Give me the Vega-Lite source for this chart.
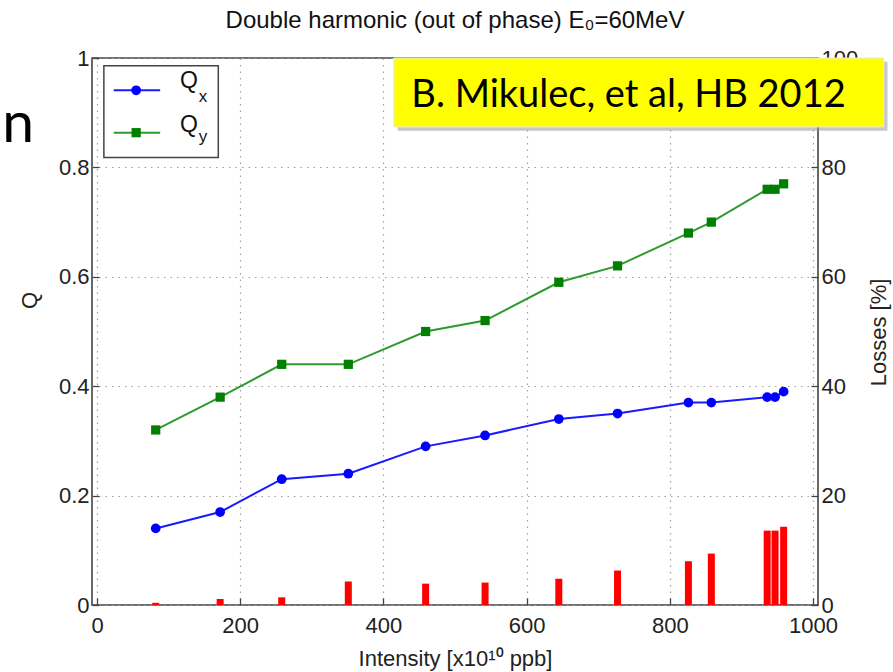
{
  "$schema": "https://vega.github.io/schema/vega-lite/v6.json",
  "width": 726,
  "height": 547,
  "autosize": {"type": "none"},
  "padding": {"left": 92, "top": 58, "right": 75, "bottom": 67},
  "background": "white",
  "config": {
    "view": {"stroke": "#444", "strokeWidth": 1.6},
    "font": "Liberation Sans",
    "axis": {
      "labelFont": "Liberation Sans",
      "labelFontSize": 22,
      "labelColor": "#222",
      "titleFont": "Liberation Sans",
      "titleFontSize": 22,
      "titleFontWeight": "normal",
      "titleColor": "#222",
      "domain": false,
      "tickColor": "#444",
      "tickWidth": 1.3,
      "tickSize": -7,
      "gridColor": "#a0a0a0",
      "gridDash": [1.5, 5],
      "gridWidth": 1.2
    }
  },
  "encoding": {
    "x": {
      "field": "intensity",
      "type": "quantitative",
      "scale": {"domain": [0, 1000], "nice": false, "zero": false},
      "axis": {
        "title": "Intensity [x10¹⁰ ppb]",
        "values": [0, 200, 400, 600, 800, 1000],
        "format": "d",
        "grid": true,
        "labelPadding": 17,
        "titleY": 60,
        "titleBaseline": "alphabetic"
      }
    }
  },
  "layer": [
    {
      "data": {
        "values": [
          {"intensity": 82, "losses": 0.4},
          {"intensity": 172, "losses": 1.1},
          {"intensity": 258, "losses": 1.4},
          {"intensity": 351, "losses": 4.3},
          {"intensity": 459, "losses": 3.9},
          {"intensity": 542, "losses": 4.1},
          {"intensity": 645, "losses": 4.8},
          {"intensity": 727, "losses": 6.3},
          {"intensity": 826, "losses": 8.0},
          {"intensity": 858, "losses": 9.4},
          {"intensity": 936, "losses": 13.6},
          {"intensity": 947, "losses": 13.6},
          {"intensity": 959, "losses": 14.3}
        ]
      },
      "mark": {"type": "bar", "color": "#ff0000", "size": 7},
      "encoding": {
        "y": {
          "field": "losses",
          "type": "quantitative",
          "scale": {"domain": [0, 100], "nice": false},
          "axis": {
            "orient": "right",
            "title": "Losses [%]",
            "values": [0, 20, 40, 60, 80, 100],
            "format": "d",
            "grid": false,
            "labelPadding": 10,
            "titleAngle": 270,
            "titleX": 60,
            "titleY": 274,
            "titleAlign": "center",
            "titleBaseline": "middle"
          }
        }
      }
    },
    {
      "encoding": {
        "y": {
          "field": "q",
          "type": "quantitative",
          "scale": {"domain": [0, 1], "nice": false},
          "axis": {
            "title": "Q",
            "values": [0, 0.2, 0.4, 0.6, 0.8, 1],
            "format": "~g",
            "grid": true,
            "labelPadding": 10,
            "titleAngle": 270,
            "titleX": -63,
            "titleY": 242,
            "titleAlign": "center",
            "titleBaseline": "middle"
          }
        }
      },
      "layer": [
        {
          "data": {
            "values": [
              {"intensity": 82, "q": 0.14, "series": "Qx"},
              {"intensity": 172, "q": 0.17, "series": "Qx"},
              {"intensity": 258, "q": 0.23, "series": "Qx"},
              {"intensity": 351, "q": 0.24, "series": "Qx"},
              {"intensity": 459, "q": 0.29, "series": "Qx"},
              {"intensity": 542, "q": 0.31, "series": "Qx"},
              {"intensity": 645, "q": 0.34, "series": "Qx"},
              {"intensity": 727, "q": 0.35, "series": "Qx"},
              {"intensity": 826, "q": 0.37, "series": "Qx"},
              {"intensity": 858, "q": 0.37, "series": "Qx"},
              {"intensity": 936, "q": 0.38, "series": "Qx"},
              {"intensity": 947, "q": 0.38, "series": "Qx"},
              {"intensity": 959, "q": 0.39, "series": "Qx"}
            ]
          },
          "layer": [
            {"mark": {"type": "line", "color": "#1a1aff", "strokeWidth": 2}},
            {"mark": {"type": "point", "shape": "circle", "filled": true, "color": "#0000ff", "size": 95, "opacity": 1}}
          ]
        },
        {
          "data": {
            "values": [
              {"intensity": 82, "q": 0.32, "series": "Qy"},
              {"intensity": 172, "q": 0.38, "series": "Qy"},
              {"intensity": 258, "q": 0.44, "series": "Qy"},
              {"intensity": 351, "q": 0.44, "series": "Qy"},
              {"intensity": 459, "q": 0.50, "series": "Qy"},
              {"intensity": 542, "q": 0.52, "series": "Qy"},
              {"intensity": 645, "q": 0.59, "series": "Qy"},
              {"intensity": 727, "q": 0.62, "series": "Qy"},
              {"intensity": 826, "q": 0.68, "series": "Qy"},
              {"intensity": 858, "q": 0.70, "series": "Qy"},
              {"intensity": 936, "q": 0.76, "series": "Qy"},
              {"intensity": 947, "q": 0.76, "series": "Qy"},
              {"intensity": 959, "q": 0.77, "series": "Qy"}
            ]
          },
          "layer": [
            {"mark": {"type": "line", "color": "#2e9a2e", "strokeWidth": 2}},
            {"mark": {"type": "point", "shape": "square", "filled": true, "color": "#007f00", "size": 85, "opacity": 1}}
          ]
        },
        {
          "data": {"values": [{"intensity": 9.6, "intensity2": 169.4, "q": 0.986, "q2": 0.818}]},
          "mark": {"type": "rect", "fill": "white", "stroke": "#444", "strokeWidth": 1.5},
          "encoding": {
            "x2": {"field": "intensity2"},
            "y2": {"field": "q2"}
          }
        },
        {
          "data": {
            "values": [
              {"intensity": 23.4, "intensity2": 88.2, "q": 0.941, "series": "Qx"},
              {"intensity": 23.4, "intensity2": 88.2, "q": 0.8635, "series": "Qy"}
            ]
          },
          "mark": {"type": "rule", "strokeWidth": 2},
          "encoding": {
            "x2": {"field": "intensity2"},
            "color": {"field": "series", "type": "nominal", "scale": {"domain": ["Qx", "Qy"], "range": ["#1a1aff", "#2e9a2e"]}, "legend": null}
          }
        },
        {
          "data": {"values": [{"intensity": 54.7, "q": 0.941}]},
          "mark": {"type": "point", "shape": "circle", "filled": true, "color": "#0000ff", "size": 95, "opacity": 1}
        },
        {
          "data": {"values": [{"intensity": 54.7, "q": 0.8635}]},
          "mark": {"type": "point", "shape": "square", "filled": true, "color": "#007f00", "size": 85, "opacity": 1}
        },
        {
          "data": {
            "values": [
              {"intensity": 116, "q": 0.945, "label": "Q"},
              {"intensity": 116, "q": 0.865, "label": "Q"}
            ]
          },
          "mark": {"type": "text", "align": "left", "baseline": "alphabetic", "fontSize": 23, "font": "Liberation Sans", "color": "#111"},
          "encoding": {"text": {"field": "label"}}
        },
        {
          "data": {
            "values": [
              {"intensity": 142, "q": 0.9196, "label": "x"},
              {"intensity": 142, "q": 0.847, "label": "y"}
            ]
          },
          "mark": {"type": "text", "align": "left", "baseline": "alphabetic", "fontSize": 17, "font": "Liberation Sans", "color": "#111"},
          "encoding": {"text": {"field": "label"}}
        },
        {
          "data": {"values": [{"intensity": 500, "q": 1.054, "label": "Double harmonic (out of phase) E₀=60MeV"}]},
          "mark": {"type": "text", "align": "center", "baseline": "alphabetic", "fontSize": 24, "font": "Liberation Sans", "color": "#111"},
          "encoding": {"text": {"field": "label"}}
        },
        {
          "data": {"values": [{"intensity": 420, "intensity2": 1104, "q": 0.993, "q2": 0.867}]},
          "mark": {"type": "rect", "fill": "#999999", "opacity": 0.55},
          "encoding": {"x2": {"field": "intensity2"}, "y2": {"field": "q2"}}
        },
        {
          "data": {"values": [{"intensity": 414.6, "intensity2": 1099, "q": 1.0, "q2": 0.874}]},
          "mark": {"type": "rect", "fill": "#ffff00", "stroke": "#e8e8e8", "strokeWidth": 1},
          "encoding": {"x2": {"field": "intensity2"}, "y2": {"field": "q2"}}
        },
        {
          "data": {"values": [{"intensity": 742.4, "q": 0.910, "label": "B. Mikulec, et al, HB 2012"}]},
          "mark": {"type": "text", "align": "center", "baseline": "alphabetic", "fontSize": 38, "font": "Lato", "color": "#000"},
          "encoding": {"text": {"field": "label"}}
        },
        {
          "data": {"values": [{"intensity": -88, "q": 0.8464, "label": "n"}]},
          "mark": {"type": "text", "align": "right", "baseline": "alphabetic", "fontSize": 57, "font": "Lato", "color": "#000"},
          "encoding": {"text": {"field": "label"}}
        }
      ]
    }
  ],
  "resolve": {"scale": {"y": "independent"}}
}
